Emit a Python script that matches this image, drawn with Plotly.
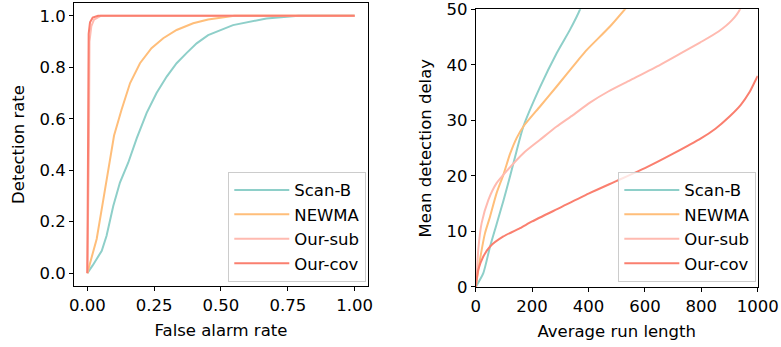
import plotly.graph_objects as go

# ---- Left panel: false alarm rate vs detection rate ----
scanb_far = [0, 0.02, 0.054, 0.072, 0.097, 0.122, 0.153, 0.185, 0.222, 0.259, 0.297, 0.334, 0.371, 0.409, 0.452, 0.545, 0.67, 0.79, 1.0]
scanb_det = [0, 0.03, 0.087, 0.145, 0.261, 0.352, 0.429, 0.525, 0.623, 0.70, 0.764, 0.816, 0.855, 0.893, 0.925, 0.964, 0.99, 1.0, 1.0]

newma_far = [0, 0.016, 0.035, 0.060, 0.085, 0.10, 0.128, 0.160, 0.197, 0.24, 0.284, 0.334, 0.396, 0.452, 0.55, 1.0]
newma_det = [0, 0.06, 0.133, 0.287, 0.442, 0.535, 0.635, 0.739, 0.816, 0.874, 0.913, 0.945, 0.971, 0.986, 1.0, 1.0]

oursub_far = [0, 0.006, 0.008, 0.015, 0.025, 0.05, 1.0]
oursub_det = [0, 0.5, 0.9, 0.96, 0.985, 1.0, 1.0]

ourcov_far = [0, 0.004, 0.005, 0.01, 0.02, 0.04, 1.0]
ourcov_det = [0, 0.5, 0.93, 0.975, 0.993, 1.0, 1.0]

# ---- Right panel: average run length vs mean detection delay ----
scanb_arl = [0, 27, 51, 74, 98, 122, 145, 169, 228, 287, 334, 370, 395]
scanb_mdd = [0, 2.5, 7.3, 11.3, 15.5, 20.0, 24.5, 28.9, 36.0, 42.1, 46.3, 50, 54]

newma_arl = [0, 15, 33, 51, 74, 98, 122, 145, 169, 228, 287, 364, 394, 476, 529, 570]
newma_mdd = [0, 4.9, 9.7, 12.7, 16.9, 20.2, 24.0, 26.8, 28.9, 32.5, 36.1, 40.9, 42.7, 46.9, 50, 52.5]

oursub_arl = [0, 3.5, 9, 21, 45, 74, 110, 169, 228, 287, 346, 405, 470, 547, 654, 725, 795, 861, 908, 937, 955]
oursub_mdd = [0, 1.9, 6.7, 11.5, 15.7, 18.7, 20.9, 24.1, 26.5, 28.9, 31.0, 33.2, 35.2, 37.2, 40, 42, 44, 46, 48, 50, 54]

ourcov_arl = [0, 9, 27, 51, 98, 157, 200, 300, 400, 500, 600, 700, 800, 850, 900, 940, 970, 990, 1000]
ourcov_mdd = [0, 3.1, 5.5, 7.3, 9.1, 10.6, 11.8, 14.3, 16.8, 19.1, 21.4, 24.0, 26.8, 28.5, 30.7, 32.8, 35, 37, 38]

names = ["Scan-B", "NEWMA", "Our-sub", "Our-cov"]
colors = ["#8ECFC9", "#FFBE7A", "#FFBAB0", "#FA7F6F"]

FONT = "DejaVu Sans"
FS = 16.5

fig = go.Figure()

left = [(scanb_far, scanb_det), (newma_far, newma_det),
        (oursub_far, oursub_det), (ourcov_far, ourcov_det)]
right = [(scanb_arl, scanb_mdd), (newma_arl, newma_mdd),
         (oursub_arl, oursub_mdd), (ourcov_arl, ourcov_mdd)]

for i, (xs, ys) in enumerate(left):
    fig.add_trace(go.Scatter(x=xs, y=ys, mode="lines", name=names[i],
                             line=dict(color=colors[i], width=2),
                             xaxis="x", yaxis="y", legend="legend",
                             legendgroup=f"l{i}"))
for i, (xs, ys) in enumerate(right):
    fig.add_trace(go.Scatter(x=xs, y=ys, mode="lines", name=names[i],
                             line=dict(color=colors[i], width=2, shape="spline", smoothing=0.6),
                             xaxis="x2", yaxis="y2", legend="legend2",
                             legendgroup=f"r{i}"))

axis_common = dict(showline=True, linecolor="black", linewidth=1, mirror=True,
                   ticks="outside", ticklen=4, tickwidth=1, tickcolor="black",
                   showgrid=False, zeroline=False, automargin=False,
                   tickfont=dict(family=FONT, size=FS, color="black"),
                   title_font=dict(family=FONT, size=FS, color="black"))

legend_common = dict(bgcolor="rgba(255,255,255,0.8)", bordercolor="#cccccc", borderwidth=1,
                     font=dict(family=FONT, size=FS, color="black"),
                     xanchor="left", yanchor="top", tracegroupgap=0,
                     itemwidth=55)

fig.update_layout(
    width=781, height=347,
    margin=dict(l=0, r=0, t=0, b=0, autoexpand=False),
    paper_bgcolor="white", plot_bgcolor="white",
    font=dict(family=FONT, size=FS, color="black"),
    xaxis=dict(domain=[0.0947, 0.4712], range=[-0.05, 1.05],
               tickvals=[0, 0.25, 0.5, 0.75, 1.0], tickformat=".2f",
               title=dict(text="False alarm rate", standoff=10), anchor="y", **axis_common),
    yaxis=dict(domain=[0.1758, 0.9914], range=[-0.05, 1.05],
               tickvals=[0, 0.2, 0.4, 0.6, 0.8, 1.0], tickformat=".1f",
               title=dict(text="Detection rate", standoff=10), anchor="x", **axis_common),
    xaxis2=dict(domain=[0.6091, 0.9702], range=[0, 1000],
                tickvals=[0, 200, 400, 600, 800, 1000],
                title=dict(text="Average run length", standoff=10), anchor="y2", **axis_common),
    yaxis2=dict(domain=[0.1729, 0.9732], range=[0, 50],
                tickvals=[0, 10, 20, 30, 40, 50],
                title=dict(text="Mean detection delay", standoff=10), anchor="x2", **axis_common),
    legend=dict(x=0.2923, y=0.5052, **legend_common),
    legend2=dict(x=0.7917, y=0.5052, **legend_common),
)

fig.write_html("out.html")
